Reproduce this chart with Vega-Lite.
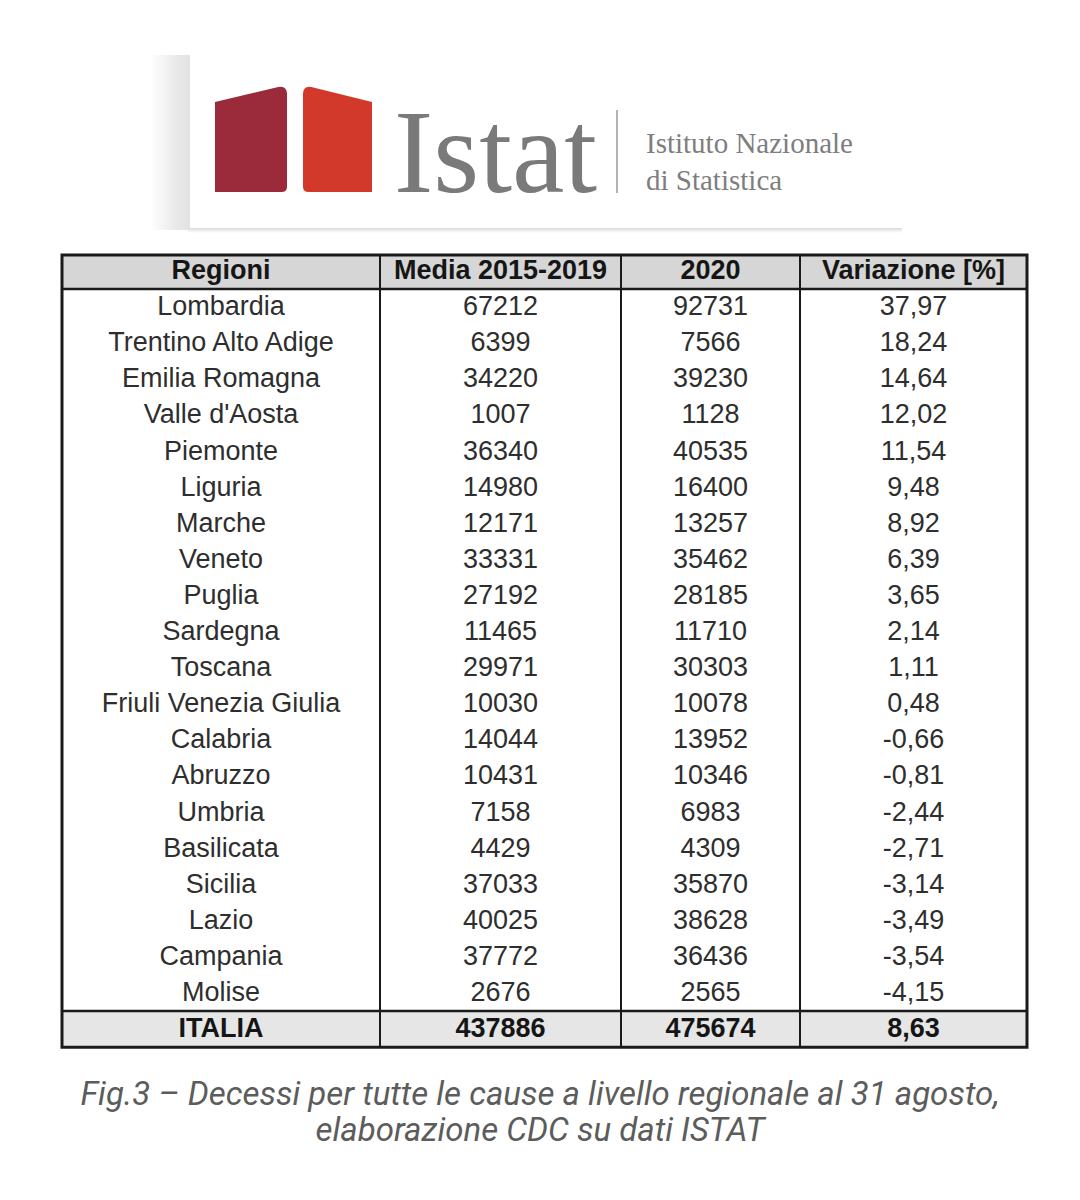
{
  "$schema": "https://vega.github.io/schema/vega-lite/v6.json",
  "width": 1080,
  "height": 1200,
  "autosize": {"type": "fit", "contains": "padding"},
  "padding": 0,
  "background": "#ffffff",
  "config": {
    "view": {"stroke": null},
    "locale": {"number": {"decimal": ",", "thousands": ".", "grouping": [3], "currency": ["€", ""], "minus": "-"}}
  },
  "datasets": {
    "tabella": [
      {"riga": 1, "regione": "Lombardia", "media": 67212, "anno2020": 92731, "variazione": 37.97},
      {"riga": 2, "regione": "Trentino Alto Adige", "media": 6399, "anno2020": 7566, "variazione": 18.24},
      {"riga": 3, "regione": "Emilia Romagna", "media": 34220, "anno2020": 39230, "variazione": 14.64},
      {"riga": 4, "regione": "Valle d'Aosta", "media": 1007, "anno2020": 1128, "variazione": 12.02},
      {"riga": 5, "regione": "Piemonte", "media": 36340, "anno2020": 40535, "variazione": 11.54},
      {"riga": 6, "regione": "Liguria", "media": 14980, "anno2020": 16400, "variazione": 9.48},
      {"riga": 7, "regione": "Marche", "media": 12171, "anno2020": 13257, "variazione": 8.92},
      {"riga": 8, "regione": "Veneto", "media": 33331, "anno2020": 35462, "variazione": 6.39},
      {"riga": 9, "regione": "Puglia", "media": 27192, "anno2020": 28185, "variazione": 3.65},
      {"riga": 10, "regione": "Sardegna", "media": 11465, "anno2020": 11710, "variazione": 2.14},
      {"riga": 11, "regione": "Toscana", "media": 29971, "anno2020": 30303, "variazione": 1.11},
      {"riga": 12, "regione": "Friuli Venezia Giulia", "media": 10030, "anno2020": 10078, "variazione": 0.48},
      {"riga": 13, "regione": "Calabria", "media": 14044, "anno2020": 13952, "variazione": -0.66},
      {"riga": 14, "regione": "Abruzzo", "media": 10431, "anno2020": 10346, "variazione": -0.81},
      {"riga": 15, "regione": "Umbria", "media": 7158, "anno2020": 6983, "variazione": -2.44},
      {"riga": 16, "regione": "Basilicata", "media": 4429, "anno2020": 4309, "variazione": -2.71},
      {"riga": 17, "regione": "Sicilia", "media": 37033, "anno2020": 35870, "variazione": -3.14},
      {"riga": 18, "regione": "Lazio", "media": 40025, "anno2020": 38628, "variazione": -3.49},
      {"riga": 19, "regione": "Campania", "media": 37772, "anno2020": 36436, "variazione": -3.54},
      {"riga": 20, "regione": "Molise", "media": 2676, "anno2020": 2565, "variazione": -4.15},
      {"riga": 21, "regione": "ITALIA", "media": 437886, "anno2020": 475674, "variazione": 8.63}
    ],
    "colonne": [
      {"campo": "regione", "indice": 0, "titolo": "Regioni"},
      {"campo": "media", "indice": 1, "titolo": "Media 2015-2019"},
      {"campo": "anno2020", "indice": 2, "titolo": "2020"},
      {"campo": "variazione", "indice": 3, "titolo": "Variazione [%]"}
    ]
  },
  "resolve": {"scale": {"x": "independent", "y": "independent"}},
  "layer": [
    {
      "data": {"values": [{}]},
      "layer": [
        {
          "mark": {"type": "rect", "color": {"gradient": "linear", "x1": 0, "x2": 1, "y1": 0, "y2": 0, "stops": [{"offset": 0, "color": "#ffffff"}, {"offset": 0.7, "color": "#e8e8e8"}, {"offset": 1, "color": "#e2e2e2"}]}},
          "encoding": {
            "x": {"datum": 150, "type": "quantitative", "scale": {"domain": [0, 1080], "range": [0, 1080], "nice": false, "zero": false}, "axis": null},
            "x2": {"datum": 190},
            "y": {"datum": 55, "type": "quantitative", "scale": {"domain": [0, 1200], "range": [0, 1200], "nice": false, "zero": false}, "axis": null},
            "y2": {"datum": 230}
          }
        },
        {
          "mark": {"type": "rect", "color": {"gradient": "linear", "x1": 0, "x2": 0, "y1": 0, "y2": 1, "stops": [{"offset": 0, "color": "#dadada"}, {"offset": 1, "color": "#ffffff"}]}},
          "encoding": {
            "x": {"datum": 188, "type": "quantitative", "scale": {"domain": [0, 1080], "range": [0, 1080], "nice": false, "zero": false}, "axis": null},
            "x2": {"datum": 902},
            "y": {"datum": 228, "type": "quantitative", "scale": {"domain": [0, 1200], "range": [0, 1200], "nice": false, "zero": false}, "axis": null},
            "y2": {"datum": 233}
          }
        },
        {
          "mark": {"type": "point", "filled": true, "opacity": 1, "strokeWidth": 0, "color": "#9b2a3b", "size": 11025,
            "shape": "M-0.686,-0.714 L0.52,-1 Q0.686,-1.03 0.686,-0.86 L0.686,0.9 Q0.686,1 0.58,1 L-0.686,1 Z"},
          "encoding": {
            "x": {"datum": 251, "type": "quantitative", "scale": {"domain": [0, 1080], "range": [0, 1080], "nice": false, "zero": false}, "axis": null},
            "y": {"datum": 139.5, "type": "quantitative", "scale": {"domain": [0, 1200], "range": [0, 1200], "nice": false, "zero": false}, "axis": null}
          }
        },
        {
          "mark": {"type": "point", "filled": true, "opacity": 1, "strokeWidth": 0, "color": "#d3392b", "size": 11025,
            "shape": "M-0.657,-0.86 Q-0.657,-1.03 -0.5,-1 L0.657,-0.714 L0.657,1 L-0.55,1 Q-0.657,1 -0.657,0.9 Z"},
          "encoding": {
            "x": {"datum": 337.5, "type": "quantitative", "scale": {"domain": [0, 1080], "range": [0, 1080], "nice": false, "zero": false}, "axis": null},
            "y": {"datum": 139.5, "type": "quantitative", "scale": {"domain": [0, 1200], "range": [0, 1200], "nice": false, "zero": false}, "axis": null}
          }
        },
        {
          "mark": {"type": "text", "font": "Liberation Serif", "fontSize": 118, "color": "#7a7a7a", "align": "left", "baseline": "alphabetic", "text": "Istat"},
          "encoding": {
            "x": {"datum": 394, "type": "quantitative", "scale": {"domain": [0, 1080], "range": [0, 1080], "nice": false, "zero": false}, "axis": null},
            "y": {"datum": 192, "type": "quantitative", "scale": {"domain": [0, 1200], "range": [0, 1200], "nice": false, "zero": false}, "axis": null}
          }
        },
        {
          "mark": {"type": "rule", "color": "#9a9a9a", "strokeWidth": 1.5},
          "encoding": {
            "x": {"datum": 617, "type": "quantitative", "scale": {"domain": [0, 1080], "range": [0, 1080], "nice": false, "zero": false}, "axis": null},
            "y": {"datum": 110, "type": "quantitative", "scale": {"domain": [0, 1200], "range": [0, 1200], "nice": false, "zero": false}, "axis": null},
            "y2": {"datum": 193}
          }
        },
        {
          "mark": {"type": "text", "font": "Liberation Serif", "fontSize": 29, "color": "#7e7e7e", "align": "left", "baseline": "alphabetic", "lineHeight": 37, "text": ["Istituto Nazionale", "di Statistica"]},
          "encoding": {
            "x": {"datum": 646, "type": "quantitative", "scale": {"domain": [0, 1080], "range": [0, 1080], "nice": false, "zero": false}, "axis": null},
            "y": {"datum": 153, "type": "quantitative", "scale": {"domain": [0, 1200], "range": [0, 1200], "nice": false, "zero": false}, "axis": null}
          }
        },
        {
          "mark": {"type": "text", "font": "Roboto", "fontStyle": "italic", "fontSize": 33, "color": "#5c5c5c", "align": "center", "baseline": "alphabetic", "lineHeight": 36,
            "text": ["Fig.3 – Decessi per tutte le cause a livello regionale al 31 agosto,", "elaborazione CDC su dati ISTAT"]},
          "encoding": {
            "x": {"datum": 540, "type": "quantitative", "scale": {"domain": [0, 1080], "range": [0, 1080], "nice": false, "zero": false}, "axis": null},
            "y": {"datum": 1105, "type": "quantitative", "scale": {"domain": [0, 1200], "range": [0, 1200], "nice": false, "zero": false}, "axis": null}
          }
        }
      ]
    },
    {
      "layer": [
        {
          "data": {"values": [{}]},
          "mark": {"type": "rect", "color": "#d6d6d6"},
          "encoding": {
            "x": {"datum": -0.5, "type": "quantitative", "scale": {"domain": [-0.5, 0, 0.5, 1, 1.5, 2, 2.5, 3, 3.5], "range": [62, 221, 380, 500.5, 621, 710.5, 800, 913.5, 1027], "nice": false, "zero": false}, "axis": null},
            "x2": {"datum": 3.5},
            "y": {"datum": -0.443, "type": "quantitative", "scale": {"domain": [0, 21], "range": [271, 1029.1], "nice": false, "zero": false}, "axis": null},
            "y2": {"datum": 0.5}
          }
        },
        {
          "data": {"values": [{}]},
          "mark": {"type": "rect", "color": "#e6e6e6"},
          "encoding": {
            "x": {"datum": -0.5, "type": "quantitative", "scale": {"domain": [-0.5, 0, 0.5, 1, 1.5, 2, 2.5, 3, 3.5], "range": [62, 221, 380, 500.5, 621, 710.5, 800, 913.5, 1027], "nice": false, "zero": false}, "axis": null},
            "x2": {"datum": 3.5},
            "y": {"datum": 20.5, "type": "quantitative", "scale": {"domain": [0, 21], "range": [271, 1029.1], "nice": false, "zero": false}, "axis": null},
            "y2": {"datum": 21.5}
          }
        },
        {
          "data": {"values": [{}]},
          "mark": {"type": "rule", "color": "#1a1a1a", "strokeWidth": 2.5},
          "encoding": {
            "x": {"datum": -0.5, "type": "quantitative", "scale": {"domain": [-0.5, 0, 0.5, 1, 1.5, 2, 2.5, 3, 3.5], "range": [62, 221, 380, 500.5, 621, 710.5, 800, 913.5, 1027], "nice": false, "zero": false}, "axis": null},
            "x2": {"datum": 3.5},
            "y": {"datum": 0.5, "type": "quantitative", "scale": {"domain": [0, 21], "range": [271, 1029.1], "nice": false, "zero": false}, "axis": null}
          }
        },
        {
          "data": {"values": [{}]},
          "mark": {"type": "rule", "color": "#1a1a1a", "strokeWidth": 2.5},
          "encoding": {
            "x": {"datum": -0.5, "type": "quantitative", "scale": {"domain": [-0.5, 0, 0.5, 1, 1.5, 2, 2.5, 3, 3.5], "range": [62, 221, 380, 500.5, 621, 710.5, 800, 913.5, 1027], "nice": false, "zero": false}, "axis": null},
            "x2": {"datum": 3.5},
            "y": {"datum": 20.5, "type": "quantitative", "scale": {"domain": [0, 21], "range": [271, 1029.1], "nice": false, "zero": false}, "axis": null}
          }
        },
        {
          "data": {"values": [{}]},
          "mark": {"type": "rule", "color": "#1a1a1a", "strokeWidth": 2},
          "encoding": {
            "x": {"datum": 0.5, "type": "quantitative", "scale": {"domain": [-0.5, 0, 0.5, 1, 1.5, 2, 2.5, 3, 3.5], "range": [62, 221, 380, 500.5, 621, 710.5, 800, 913.5, 1027], "nice": false, "zero": false}, "axis": null},
            "y": {"datum": -0.443, "type": "quantitative", "scale": {"domain": [0, 21], "range": [271, 1029.1], "nice": false, "zero": false}, "axis": null},
            "y2": {"datum": 21.5}
          }
        },
        {
          "data": {"values": [{}]},
          "mark": {"type": "rule", "color": "#1a1a1a", "strokeWidth": 2},
          "encoding": {
            "x": {"datum": 1.5, "type": "quantitative", "scale": {"domain": [-0.5, 0, 0.5, 1, 1.5, 2, 2.5, 3, 3.5], "range": [62, 221, 380, 500.5, 621, 710.5, 800, 913.5, 1027], "nice": false, "zero": false}, "axis": null},
            "y": {"datum": -0.443, "type": "quantitative", "scale": {"domain": [0, 21], "range": [271, 1029.1], "nice": false, "zero": false}, "axis": null},
            "y2": {"datum": 21.5}
          }
        },
        {
          "data": {"values": [{}]},
          "mark": {"type": "rule", "color": "#1a1a1a", "strokeWidth": 2},
          "encoding": {
            "x": {"datum": 2.5, "type": "quantitative", "scale": {"domain": [-0.5, 0, 0.5, 1, 1.5, 2, 2.5, 3, 3.5], "range": [62, 221, 380, 500.5, 621, 710.5, 800, 913.5, 1027], "nice": false, "zero": false}, "axis": null},
            "y": {"datum": -0.443, "type": "quantitative", "scale": {"domain": [0, 21], "range": [271, 1029.1], "nice": false, "zero": false}, "axis": null},
            "y2": {"datum": 21.5}
          }
        },
        {
          "data": {"values": [{}]},
          "mark": {"type": "rect", "fill": null, "fillOpacity": 0, "stroke": "#1a1a1a", "strokeWidth": 3},
          "encoding": {
            "x": {"datum": -0.5, "type": "quantitative", "scale": {"domain": [-0.5, 0, 0.5, 1, 1.5, 2, 2.5, 3, 3.5], "range": [62, 221, 380, 500.5, 621, 710.5, 800, 913.5, 1027], "nice": false, "zero": false}, "axis": null},
            "x2": {"datum": 3.5},
            "y": {"datum": -0.443, "type": "quantitative", "scale": {"domain": [0, 21], "range": [271, 1029.1], "nice": false, "zero": false}, "axis": null},
            "y2": {"datum": 21.5}
          }
        },
        {
          "data": {"name": "colonne"},
          "mark": {"type": "text", "font": "Liberation Sans", "fontSize": 27, "fontWeight": "bold", "color": "#151515", "align": "center", "baseline": "middle"},
          "encoding": {
            "x": {"field": "indice", "type": "quantitative", "scale": {"domain": [-0.5, 0, 0.5, 1, 1.5, 2, 2.5, 3, 3.5], "range": [62, 221, 380, 500.5, 621, 710.5, 800, 913.5, 1027], "nice": false, "zero": false}, "axis": null},
            "y": {"datum": 0, "type": "quantitative", "scale": {"domain": [0, 21], "range": [271, 1029.1], "nice": false, "zero": false}, "axis": null},
            "text": {"field": "titolo", "type": "nominal"}
          }
        },
        {
          "data": {"name": "tabella"},
          "transform": [
            {"filter": "datum.regione !== 'ITALIA'"},
            {"fold": ["regione", "media", "anno2020"], "as": ["campo", "valore"]},
            {"lookup": "campo", "from": {"data": {"name": "colonne"}, "key": "campo", "fields": ["indice"]}}
          ],
          "mark": {"type": "text", "font": "Liberation Sans", "fontSize": 27, "color": "#2e2e2e", "align": "center", "baseline": "middle"},
          "encoding": {
            "x": {"field": "indice", "type": "quantitative", "scale": {"domain": [-0.5, 0, 0.5, 1, 1.5, 2, 2.5, 3, 3.5], "range": [62, 221, 380, 500.5, 621, 710.5, 800, 913.5, 1027], "nice": false, "zero": false}, "axis": null},
            "y": {"field": "riga", "type": "quantitative", "scale": {"domain": [0, 21], "range": [271, 1029.1], "nice": false, "zero": false}, "axis": null},
            "text": {"field": "valore", "type": "nominal"}
          }
        },
        {
          "data": {"name": "tabella"},
          "transform": [
            {"filter": "datum.regione !== 'ITALIA'"},
            {"fold": ["variazione"], "as": ["campo", "valore"]},
            {"lookup": "campo", "from": {"data": {"name": "colonne"}, "key": "campo", "fields": ["indice"]}}
          ],
          "mark": {"type": "text", "font": "Liberation Sans", "fontSize": 27, "color": "#2e2e2e", "align": "center", "baseline": "middle"},
          "encoding": {
            "x": {"field": "indice", "type": "quantitative", "scale": {"domain": [-0.5, 0, 0.5, 1, 1.5, 2, 2.5, 3, 3.5], "range": [62, 221, 380, 500.5, 621, 710.5, 800, 913.5, 1027], "nice": false, "zero": false}, "axis": null},
            "y": {"field": "riga", "type": "quantitative", "scale": {"domain": [0, 21], "range": [271, 1029.1], "nice": false, "zero": false}, "axis": null},
            "text": {"field": "valore", "type": "quantitative", "format": ".2f"}
          }
        },
        {
          "data": {"name": "tabella"},
          "transform": [
            {"filter": "datum.regione === 'ITALIA'"},
            {"fold": ["regione", "media", "anno2020"], "as": ["campo", "valore"]},
            {"lookup": "campo", "from": {"data": {"name": "colonne"}, "key": "campo", "fields": ["indice"]}}
          ],
          "mark": {"type": "text", "font": "Liberation Sans", "fontSize": 27, "fontWeight": "bold", "color": "#151515", "align": "center", "baseline": "middle"},
          "encoding": {
            "x": {"field": "indice", "type": "quantitative", "scale": {"domain": [-0.5, 0, 0.5, 1, 1.5, 2, 2.5, 3, 3.5], "range": [62, 221, 380, 500.5, 621, 710.5, 800, 913.5, 1027], "nice": false, "zero": false}, "axis": null},
            "y": {"field": "riga", "type": "quantitative", "scale": {"domain": [0, 21], "range": [271, 1029.1], "nice": false, "zero": false}, "axis": null},
            "text": {"field": "valore", "type": "nominal"}
          }
        },
        {
          "data": {"name": "tabella"},
          "transform": [
            {"filter": "datum.regione === 'ITALIA'"},
            {"fold": ["variazione"], "as": ["campo", "valore"]},
            {"lookup": "campo", "from": {"data": {"name": "colonne"}, "key": "campo", "fields": ["indice"]}}
          ],
          "mark": {"type": "text", "font": "Liberation Sans", "fontSize": 27, "fontWeight": "bold", "color": "#151515", "align": "center", "baseline": "middle"},
          "encoding": {
            "x": {"field": "indice", "type": "quantitative", "scale": {"domain": [-0.5, 0, 0.5, 1, 1.5, 2, 2.5, 3, 3.5], "range": [62, 221, 380, 500.5, 621, 710.5, 800, 913.5, 1027], "nice": false, "zero": false}, "axis": null},
            "y": {"field": "riga", "type": "quantitative", "scale": {"domain": [0, 21], "range": [271, 1029.1], "nice": false, "zero": false}, "axis": null},
            "text": {"field": "valore", "type": "quantitative", "format": ".2f"}
          }
        }
      ]
    }
  ]
}
